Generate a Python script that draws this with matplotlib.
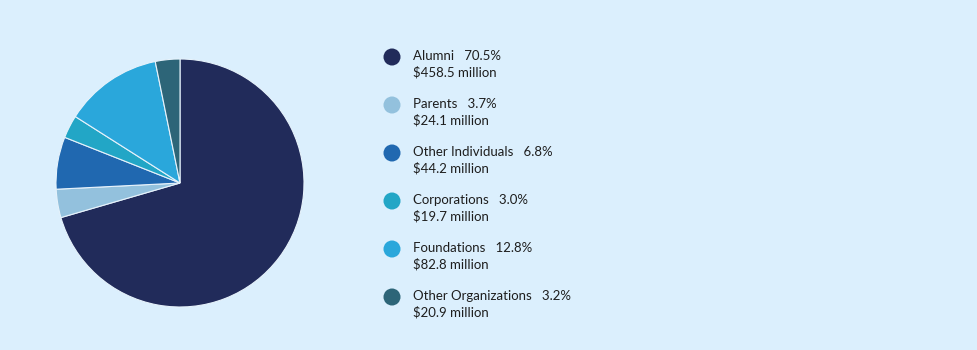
import matplotlib
matplotlib.use("Agg")
import matplotlib.pyplot as plt

# data
categories = ["Alumni", "Parents", "Other Individuals", "Corporations",
              "Foundations", "Other Organizations"]
shares = [70.5, 3.7, 6.8, 3.0, 12.8, 3.2]
amounts = ["$458.5 million", "$24.1 million", "$44.2 million",
           "$19.7 million", "$82.8 million", "$20.9 million"]
colors = ["#212b5a", "#93c1dd", "#2068b0", "#22a6c6", "#2aa7db", "#2d6578"]

bg = "#dbeffd"
W, H = 978, 350

plt.rcParams["font.family"] = ["Lato", "DejaVu Sans"]

fig = plt.figure(figsize=(W / 100, H / 100), dpi=100, facecolor=bg)

# pie
cx, cy, r = 180, 183, 124
ax = fig.add_axes([(cx - r) / W, (H - cy - r) / H, 2 * r / W, 2 * r / H])
ax.pie(shares, colors=colors, startangle=90, counterclock=False,
       wedgeprops=dict(edgecolor="#e6f2fb", linewidth=0.8))
ax.set_xlim(-1, 1)
ax.set_ylim(-1, 1)
ax.set_aspect("equal")
ax.axis("off")

# legend drawn in pixel coordinates
lg = fig.add_axes([0, 0, 1, 1])
lg.set_xlim(0, W)
lg.set_ylim(H, 0)
lg.axis("off")
lg.patch.set_alpha(0)

top = 56
step = 48
for i, (name, pct, amt, c) in enumerate(zip(categories, shares, amounts, colors)):
    y = top + i * step
    lg.scatter([392], [y + 1], s=150, color=c, edgecolors="none")
    lg.text(413, y, f"{name}   {pct:.1f}%", fontsize=9.5, color="#1e1e1e",
            va="center", ha="left")
    lg.text(413, y + 16, amt, fontsize=9.5, color="#1e1e1e",
            va="center", ha="left")

fig.savefig("out.png", dpi=100, facecolor=bg)
